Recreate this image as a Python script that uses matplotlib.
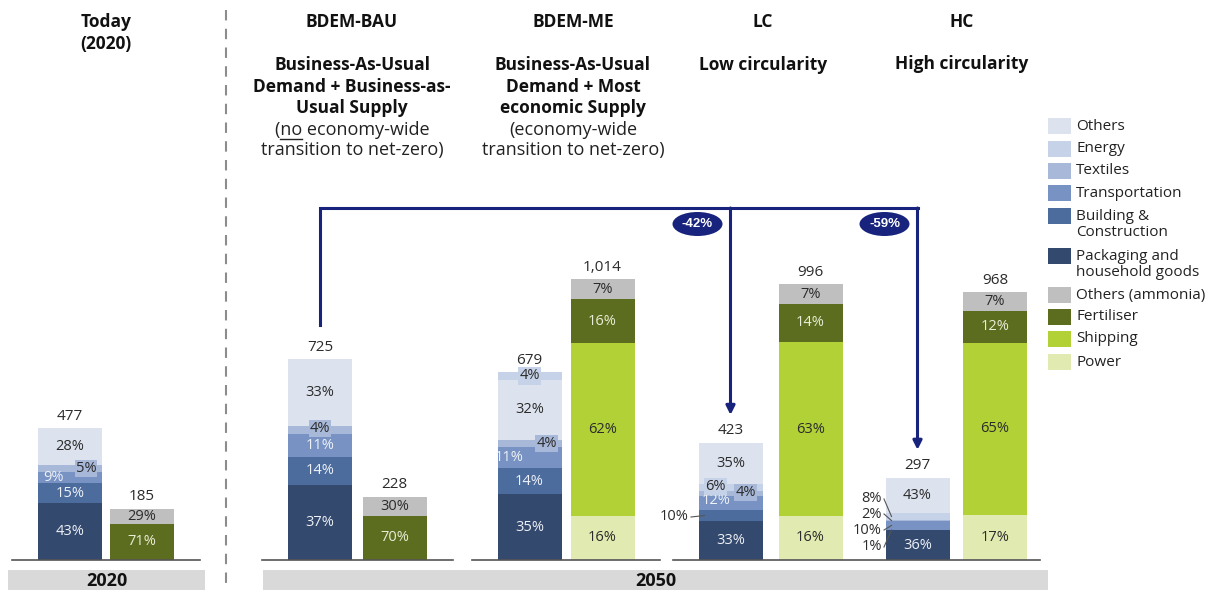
import matplotlib
matplotlib.use("Agg")
import matplotlib.pyplot as plt
from matplotlib.patches import Rectangle, Ellipse
from matplotlib.lines import Line2D

plt.rcParams['font.family'] = ['Open Sans', 'DejaVu Sans']

W, H = 1212, 590

# ---- data (shares in % of each bar, totals in Mt) ----
scenarios = ["Today (2020)", "BDEM-BAU", "BDEM-ME", "LC", "HC"]

packaging = [43, 37, 35, 33, 36]
building = [15, 14, 14, 10, 1]
transportation = [9, 11, 11, 12, 10]
textiles = [5, 4, 4, 4, 2]
energy = [0, 0, 4, 6, 8]
others = [28, 33, 32, 35, 43]
materials_total = [477, 725, 679, 423, 297]

power = [0, 0, 16, 16, 17]
shipping = [0, 0, 62, 63, 65]
fertiliser = [71, 70, 16, 14, 12]
others_ammonia = [29, 30, 7, 7, 7]
ammonia_total = [185, 228, 1014, 996, 968]

reductions = ["-42%", "-59%"]

# ---- layout (pixels) ----
Y0 = 560            # baseline
S = 132 / 477       # pixels per unit
BW = 64
xm = [70, 320, 529.5, 730.5, 917.5]
xa = [142, 394.5, 602.5, 810.5, 995]
energy_on_top = [False, False, True, False, False]

NAVY = "#17237c"
DARK_TXT = "#2b2b2b"
LIGHT_TXT = "#eef1f7"
PCT_FS = 10.5

mat_series = [
    ("Packaging and\nhousehold goods", packaging, "#34496e", LIGHT_TXT),
    ("Building &\nConstruction", building, "#4d6c9e", LIGHT_TXT),
    ("Transportation", transportation, "#7893c3", LIGHT_TXT),
    ("Textiles", textiles, "#a7b8d8", DARK_TXT),
    ("Energy", energy, "#c6d2e7", DARK_TXT),
    ("Others", others, "#dce3ee", DARK_TXT),
]
amm_series = [
    ("Power", power, "#e0eab1", DARK_TXT),
    ("Shipping", shipping, "#b1d136", DARK_TXT),
    ("Fertiliser", fertiliser, "#5d6d20", "#e9eed6"),
    ("Others (ammonia)", others_ammonia, "#bfbfbf", DARK_TXT),
]

# label tweaks for thin segments (pixel offsets / external labels)
lab = {
    (0, "Textiles"): dict(dx=16, box=True),
    (0, "Transportation"): dict(dx=-17),
    (1, "Textiles"): dict(dy=-2, box=True),
    (2, "Energy"): dict(box=True),
    (2, "Textiles"): dict(dx=17, box=True),
    (2, "Transportation"): dict(dx=-20),
    (3, "Energy"): dict(dx=-15, dy=-1, box=True),
    (3, "Textiles"): dict(dx=15, dy=-1, box=True),
    (3, "Transportation"): dict(dx=-14, dy=-2),
    (3, "Building &\nConstruction"): dict(ext=(689, 517)),
    (4, "Energy"): dict(ext=(882, 499)),
    (4, "Textiles"): dict(ext=(882, 514)),
    (4, "Transportation"): dict(ext=(882, 530)),
    (4, "Building &\nConstruction"): dict(ext=(882, 547)),
}


def yd(py):
    return (Y0 - py) / S


def fx(px):
    return px / W


def fy(py):
    return 1 - py / H


fig = plt.figure(figsize=(W / 100, H / 100), dpi=100)
ax = fig.add_axes([0, 0, 1, 1])
ax.set_xlim(0, W)
ax.set_ylim(-(H - Y0) / S, Y0 / S)
ax.axis('off')


def draw_stack(x, i, series, total):
    tot = sum(vals[i] for _, vals, _, _ in series)
    bottom = 0
    for name, vals, color, tc in series:
        v = total * vals[i] / tot
        if v <= 0:
            continue
        ax.bar(x, v, bottom=bottom, width=BW, color=color, linewidth=0)
        mid = bottom + v / 2
        spec = lab.get((i, name), {})
        txt = f"{vals[i]}%"
        if "ext" in spec:
            ex, ey = spec["ext"]
            ax.text(ex, yd(ey), txt, ha='right', va='center', fontsize=PCT_FS, color=DARK_TXT)
            ax.plot([ex + 2, x - BW / 2 + 6], [yd(ey), mid], color="#555555", lw=0.8)
        else:
            bbox = None
            if spec.get("box"):
                bbox = dict(boxstyle='square,pad=0.08', fc=color, ec='none')
            ax.text(x + spec.get("dx", 0), mid - spec.get("dy", 0) / S, txt,
                    ha='center', va='center', fontsize=PCT_FS, color=tc, bbox=bbox)
        bottom += v
    ax.annotate(f"{total:,}", (x, total), xytext=(0, 12), textcoords='offset pixels',
                ha='center', va='center', fontsize=11, color=DARK_TXT)


for i in range(len(scenarios)):
    order = list(mat_series)
    if energy_on_top[i]:
        order = [s for s in order if s[0] != "Energy"] + [mat_series[4]]
    draw_stack(xm[i], i, order, materials_total[i])
    draw_stack(xa[i], i, amm_series, ammonia_total[i])

# baselines
for x1, x2 in [(12, 200), (262, 453), (472, 660), (673, 1040)]:
    ax.plot([x1, x2], [0, 0], color="#555555", lw=1.2)

# bottom bands
for x1, x2, lbl in [(8, 205, "2020"), (263, 1048, "2050")]:
    ax.add_patch(Rectangle((x1, yd(590)), x2 - x1, yd(570) - yd(590), fc="#d9d9d9", ec='none'))
    ax.text((x1 + x2) / 2, yd(581), lbl, ha='center', va='center', fontsize=13,
            fontweight='bold', color="#111111")

# dashed divider
ax.plot([226, 226], [yd(10), yd(590)], color="#8c8c8c", lw=1.5, dashes=(5, 4))

# reduction arrows
y_h = yd(208)
ax.plot([xm[1], xm[1], xm[4]], [materials_total[1] + 34 / S, y_h, y_h],
        color=NAVY, lw=2.2, solid_joinstyle='miter', solid_capstyle='projecting')
for j in (3, 4):
    ax.annotate('', xy=(xm[j], materials_total[j] + 28 / S), xytext=(xm[j], y_h),
                arrowprops=dict(arrowstyle='-|>', color=NAVY, lw=2.2, mutation_scale=13,
                                shrinkA=0, shrinkB=0))
for j, r in zip((3, 4), reductions):
    cx = xm[j] - 33
    ax.add_patch(Ellipse((cx, yd(224)), 50, 24 / S, fc=NAVY, ec='none'))
    ax.text(cx, yd(224), r, ha='center', va='center', fontsize=9.5, fontweight='bold',
            color='white', family='Liberation Sans')

# headers
HB = dict(ha='center', va='center', fontsize=12.5, fontweight='bold', color="#111111")
HN = dict(ha='center', va='center', fontsize=13, color="#222222")
fig.text(fx(106), fy(22), "Today", **HB)
fig.text(fx(106), fy(44), "(2020)", **HB)
fig.text(fx(352), fy(22), "BDEM-BAU", **HB)
for k, line in enumerate(["Business-As-Usual", "Demand + Business-as-", "Usual Supply"]):
    fig.text(fx(352), fy(65 + 21.5 * k), line, **HB)
t_no = fig.text(fx(352), fy(130), "(no economy-wide", **HN)
fig.text(fx(352), fy(150), "transition to net-zero)", **HN)
fig.text(fx(573), fy(22), "BDEM-ME", **HB)
for k, line in enumerate(["Business-As-Usual", "Demand + Most", "economic Supply"]):
    fig.text(fx(573), fy(65 + 21.5 * k), line, **HB)
fig.text(fx(573), fy(130), "(economy-wide", **HN)
fig.text(fx(573), fy(150), "transition to net-zero)", **HN)
fig.text(fx(763), fy(22), "LC", **HB)
fig.text(fx(763), fy(65), "Low circularity", **HB)
fig.text(fx(962), fy(22), "HC", **HB)
fig.text(fx(962), fy(64), "High circularity", **HB)

# underline "no"
fig.canvas.draw()
rend = fig.canvas.get_renderer()
bb = t_no.get_window_extent(rend)


def text_w(s):
    t = fig.text(0, 0, s, fontsize=HN["fontsize"])
    w = t.get_window_extent(rend).width
    t.remove()
    return w


x_start = bb.x0 + text_w("(")
x_end = bb.x0 + text_w("(no")
fig.add_artist(Line2D([x_start / W, x_end / W], [fy(139), fy(139)], color="#222222", lw=1.0))

# legend
leg = [
    ("Others", "#dce3ee", 126), ("Energy", "#c6d2e7", 149), ("Textiles", "#a7b8d8", 171),
    ("Transportation", "#7893c3", 193), ("Building &\nConstruction", "#4d6c9e", 216),
    ("Packaging and\nhousehold goods", "#34496e", 256), ("Others (ammonia)", "#bfbfbf", 295),
    ("Fertiliser", "#5d6d20", 317), ("Shipping", "#b1d136", 339), ("Power", "#e0eab1", 362),
]
for name, col, py in leg:
    fig.patches.append(Rectangle((fx(1048), fy(py + 8)), 23 / W, 16 / H, fc=col, ec='none',
                                 transform=fig.transFigure, figure=fig))
    for k, line in enumerate(name.split("\n")):
        fig.text(fx(1076), fy(py + 17 * k), line, ha='left', va='center', fontsize=11,
                 color="#222222")

fig.savefig("out.png", dpi=100)
